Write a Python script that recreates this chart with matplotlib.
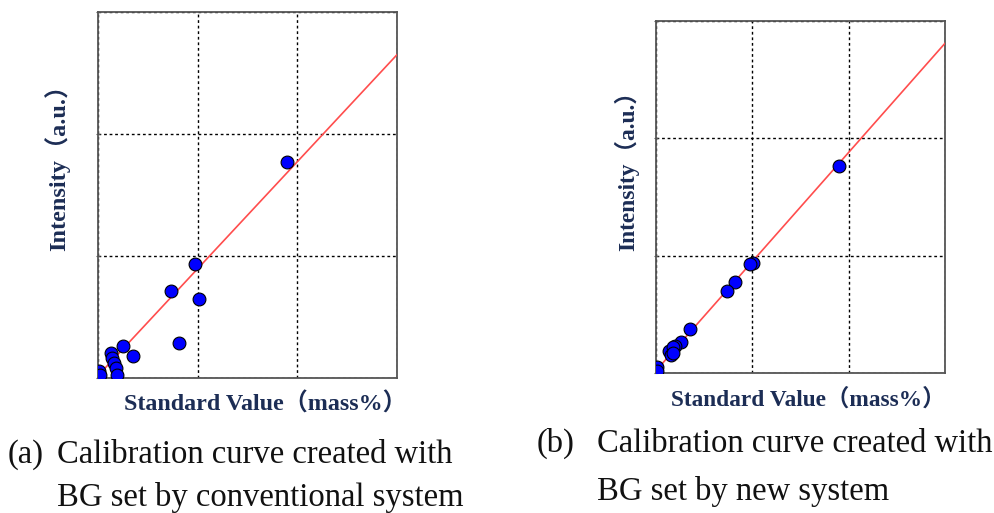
import matplotlib
matplotlib.use("Agg")
import matplotlib.pyplot as plt
import numpy as np

# ---- data (axes units 0..3) ----
x_conv = [1.896, 0.976, 0.729, 1.010, 0.809, 0.251, 0.351, 0.127, 0.144, 0.164, 0.177, 0.187, 0.010, 0.020]
y_conv = [1.768, 0.937, 0.710, 0.650, 0.287, 0.265, 0.183, 0.202, 0.161, 0.120, 0.080, 0.025, 0.057, 0.025]
fit_conv = [0.877, 0.019]   # slope, intercept

x_new = [1.900, 1.010, 0.980, 0.820, 0.740, 0.353, 0.256, 0.195, 0.138, 0.180, 0.153, 0.180, 0.014, 0.014]
y_new = [1.760, 0.940, 0.930, 0.776, 0.700, 0.377, 0.260, 0.230, 0.190, 0.220, 0.156, 0.170, 0.048, 0.014]
fit_new = [0.930, 0.020]

grid_ticks = [0, 1, 2, 3]
xlabel = "Standard Value（mass%）"
ylabel = "Intensity（a.u.）"
caption_a = ["(a)", "Calibration curve created with", "BG set by conventional system"]
caption_b = ["(b)", "Calibration curve created with", "BG set by new system"]

W, H = 995, 513
fig = plt.figure(figsize=(W / 100, H / 100), dpi=100)

label_font = dict(family=["Liberation Serif", "Noto Sans CJK JP"], fontweight="bold",
                  color="#1c2d55")
cap_font = dict(family=["Liberation Serif", "Noto Sans CJK JP"], fontsize=23.5, color="#111111")


def px_rect(l, t, r, b):
    return [l / W, 1 - b / H, (r - l) / W, (b - t) / H]


def draw_panel(rect, xs, ys, fit):
    ax = fig.add_axes(rect)
    ax.set_xlim(grid_ticks[0], grid_ticks[-1])
    ax.set_ylim(grid_ticks[0], grid_ticks[-1])
    ax.set_xticks(grid_ticks)
    ax.set_yticks(grid_ticks)
    ax.set_xticklabels([])
    ax.set_yticklabels([])
    ax.tick_params(axis="x", length=0)
    ax.tick_params(axis="y", length=3, direction="inout", color="#555555", width=0.8)
    ax.grid(True, color="black", linestyle=(0, (2, 2)), linewidth=1.0)
    for s in ax.spines.values():
        s.set_color("#555555")
        s.set_linewidth(1.3)
    xx = np.array([grid_ticks[0], grid_ticks[-1]], dtype=float)
    ax.plot(xx, np.polyval(fit, xx), color="#ff4d4d", linewidth=1.2, zorder=3)
    ax.scatter(xs, ys, s=85, color="#0000ff", edgecolors="black", linewidths=0.8, zorder=4)
    return ax


draw_panel(px_rect(98, 12, 397, 378), x_conv, y_conv, fit_conv)
draw_panel(px_rect(656, 21, 945, 373), x_new, y_new, fit_new)

# axis labels
fig.text(265 / W, 1 - 404 / H, xlabel, ha="center", va="center", fontsize=17.3, **label_font)
fig.text(57 / W, 1 - 162 / H, ylabel, ha="center", va="center", rotation=90, fontsize=17.5, **label_font)
fig.text(808 / W, 1 - 399 / H, xlabel, ha="center", va="center", fontsize=16.8, **label_font)
fig.text(627 / W, 1 - 165 / H, ylabel, ha="center", va="center", rotation=90, fontsize=16.9, **label_font)

# captions
fig.text(8 / W, 1 - 463 / H, caption_a[0], ha="left", va="baseline", **cap_font)
fig.text(57 / W, 1 - 463 / H, caption_a[1], ha="left", va="baseline", **cap_font)
fig.text(57 / W, 1 - 506 / H, caption_a[2], ha="left", va="baseline", **cap_font)
fig.text(537 / W, 1 - 452 / H, caption_b[0], ha="left", va="baseline", **cap_font)
fig.text(597 / W, 1 - 452 / H, caption_b[1], ha="left", va="baseline", **cap_font)
fig.text(597 / W, 1 - 500 / H, caption_b[2], ha="left", va="baseline", **cap_font)

fig.savefig("out.png", dpi=100)
